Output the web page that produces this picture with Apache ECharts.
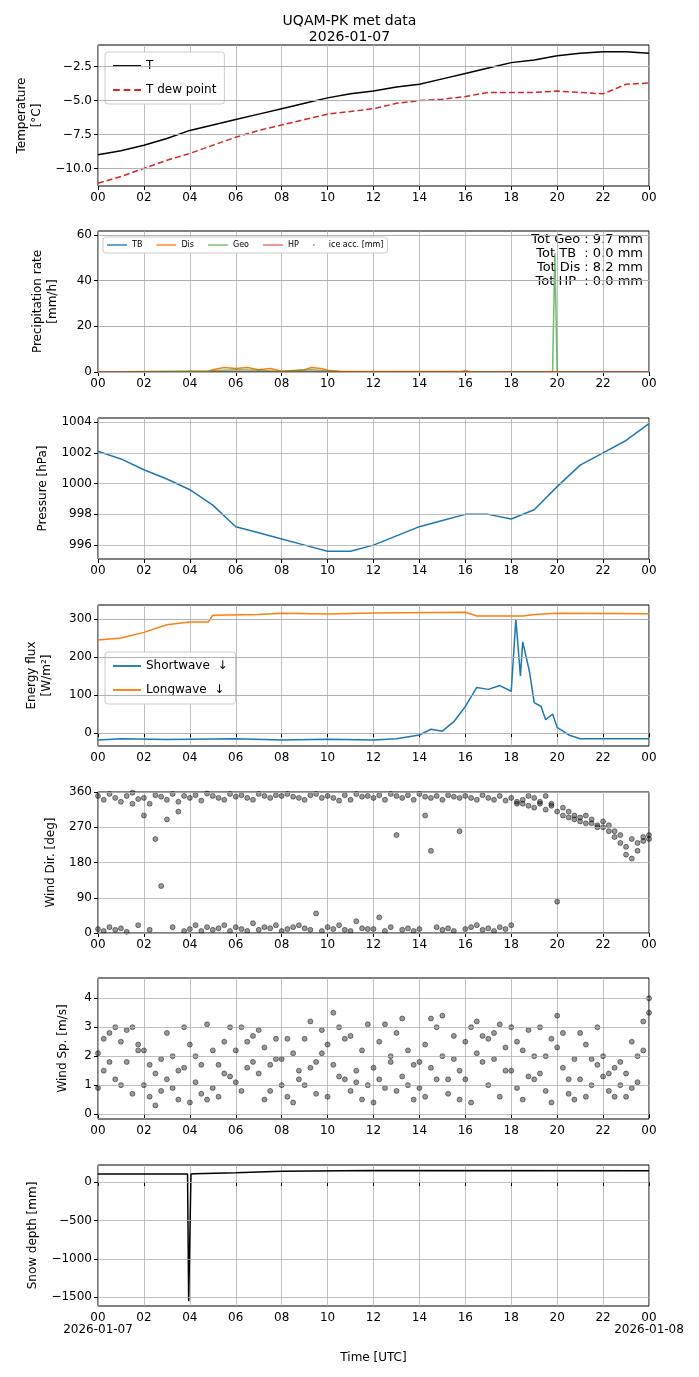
<!DOCTYPE html>
<html>
<head>
<meta charset="utf-8">
<title>UQAM-PK met data</title>
<script src="https://cdn.jsdelivr.net/npm/echarts@6/dist/echarts.min.js"></script>
<style>body{margin:0;background:#fff}#chart{width:699px;height:1377px}</style>
</head>
<body>
<div id="chart"></div>
<script>
// ---- data (hours UTC from 2026-01-07 00:00) ----
var hours = [0,1,2,3,4,5,6,7,8,9,10,11,12,13,14,15,16,17,18,19,20,21,22,23,24];
var tempT   = [-9.0,-8.7,-8.3,-7.8,-7.2,-6.8,-6.4,-6.0,-5.6,-5.2,-4.8,-4.5,-4.3,-4.0,-3.8,-3.4,-3.0,-2.6,-2.2,-2.0,-1.7,-1.5,-1.4,-1.4,-1.5];
var tempDew = [-11.1,-10.6,-10.0,-9.4,-8.9,-8.3,-7.7,-7.2,-6.8,-6.4,-6.0,-5.8,-5.6,-5.2,-5.0,-4.9,-4.7,-4.4,-4.4,-4.4,-4.3,-4.4,-4.5,-3.8,-3.7];
var pressure = [1002.1,1001.6,1000.9,1000.3,999.6,998.6,997.2,996.8,996.4,996.0,995.6,995.6,996.0,996.6,997.2,997.6,998.0,998.0,997.7,998.3,999.8,1001.2,1002.0,1002.8,1003.9];
var precipDis = [[0,0],[4.8,0.2],[5,1],[5.5,2],[6,1.5],[6.5,2],[7,1],[7.5,1.5],[8,0.3],[9,1],[9.3,2],[9.7,1.5],[10,0.8],[10.5,0.3],[11,0.2],[15.8,0.2],[16,0.6],[16.2,0.2],[24,0]];
var precipGeo = [[0,0],[5,0.5],[6,1],[7,0.8],[8,0.2],[9.3,1],[10,0.4],[11,0],[19.8,0],[19.9,52],[20.0,0],[24,0]];
var precipTB = [[0,0],[24,0]];
var precipHP = [[0,0],[24,0]];
var totals = ['Tot Geo : 9.7 mm','Tot TB  : 0.0 mm','Tot Dis : 8.2 mm','Tot HP  : 0.0 mm'];
var longwave = [[0,245],[1,250],[2,265],[3,285],[4,292],[4.8,292],[5,310],[7,312],[8,315],[10,313],[12,316],[16,318],[16.5,308],[18.5,308],[19,312],[20,315],[24,314]];
var shortwave = [[0,-18],[1,-15],[3,-17],[6,-15],[8,-18],[10,-16],[12,-18],[13,-15],[14,-5],[14.5,10],[15,5],[15.5,30],[16,70],[16.5,120],[17,115],[17.5,125],[18,110],[18.2,300],[18.4,150],[18.5,240],[18.8,160],[19,80],[19.3,70],[19.5,35],[19.8,50],[20,15],[20.5,-5],[21,-15],[24,-15]];
var windDirA = [350,340,355,345,335,350,358,342,345,330,352,348,340,355,335,350,345,352,338,356,350,345,340,355,348,352,345,340,355,350,345,352,350,355,348,345,340,352,355,345,350,345,338,352,340,355,348,350,345,352,340,355,350,345,352,340,355,348,345,350,340,352,348,345,350,345,340,352,345,340,350,338,345,335,330,325,320,330,315,325,310,300,295,290,285,280,290,275,270,260,245,230,220,240,210,235,250];
var windDirB = [10,5,15,8,12,3,330,20,300,8,240,120,290,15,310,5,10,20,5,15,8,12,20,5,15,10,5,25,8,15,12,20,5,10,15,20,12,8,50,5,15,10,20,8,5,30,12,10,10,40,5,15,250,8,12,5,10,300,210,15,8,12,5,260,10,15,20,8,12,5,15,10,20,330,340,350,345,335,350,330,80,320,310,300,295,300,280,270,285,275,260,250,200,190,230,245,240];
var windSpA = [2.1,1.5,2.8,1.2,2.5,1.8,3.0,2.2,1.0,0.6,1.4,0.8,1.2,2.0,0.5,1.6,2.4,1.1,0.7,3.1,0.9,1.7,2.5,1.3,2.2,3.0,1.6,2.7,1.4,2.3,0.8,1.9,1.0,0.6,2.1,1.5,2.6,3.2,1.8,2.9,2.4,1.7,3.0,1.2,0.8,1.5,2.2,1.0,1.6,2.5,0.9,2.0,2.8,1.3,2.2,1.7,0.9,2.4,1.6,3.0,2.0,1.2,2.7,1.5,2.5,3.0,2.1,1.8,2.6,1.9,3.1,2.3,1.5,0.9,2.2,1.3,2.0,1.4,0.8,2.6,2.3,1.6,0.7,1.9,1.2,2.4,1.0,1.7,1.3,0.8,1.6,1.0,1.4,0.9,2.0,3.2,3.5];
var windSpB = [0.9,2.6,1.8,3.0,1.0,2.9,0.7,2.4,2.2,1.7,0.3,1.9,2.8,0.9,1.5,3.0,0.4,2.0,1.7,0.5,2.2,0.6,1.4,3.0,1.1,0.8,2.5,1.8,2.9,0.5,1.7,2.6,1.9,2.6,0.4,1.2,1.0,1.6,0.7,2.1,0.6,3.5,1.3,2.6,2.7,1.1,0.5,3.1,0.4,1.2,3.1,1.8,0.8,3.3,1.0,0.5,1.8,0.6,3.3,1.2,3.4,0.7,1.9,0.5,1.2,0.4,3.2,2.7,1.0,2.8,0.6,1.5,3.0,2.5,0.5,2.9,1.2,3.0,2.0,0.4,3.4,2.8,1.2,0.5,2.8,0.6,1.9,3.0,2.0,1.4,0.6,1.8,0.6,2.5,1.1,2.2,4.0];
var snowDepth = [[0,105],[3.9,105],[3.95,-1550],[4.05,105],[4.2,108],[6,120],[8,140],[12,150],[24,148]];
var tickTemp = [-10,-7.5,-5,-2.5];
var tickPrecip = [0,20,40,60];
var tickPres = [996,998,1000,1002,1004];
var tickEnergy = [0,100,200,300];
var tickDir = [0,90,180,270,360];
var tickSp = [0,1,2,3,4];
var tickSnow = [-1500,-1000,-500,0];

// ---- helpers ----
function pairs(xs, ys){ return xs.map(function(x,i){ return [x, ys[i]]; }); }
function quarter(ys){ return ys.map(function(y,i){ return [i*0.25, y]; }); }
function pad(h){ h = h % 24; return (h < 10 ? '0' : '') + h; }
function minus(v){ return String(v).replace('-','−'); }

var tops = [45,231,418,605,792,978,1165];
var H = 141;
var font = 'DejaVu Sans';
var grids = [], xAxes = [], yAxes = [];
var yCfg = [
  {name:'Temperature\n[°C]', min:-11.3, max:-0.9, ticks:tickTemp, gap:52, fmt:function(v){return minus(v.toFixed(1));}},
  {name:'Precipitation rate\n[mm/h]', min:0, max:61.7, ticks:tickPrecip, gap:38},
  {name:'Pressure [hPa]', min:995.1, max:1004.26, ticks:tickPres, gap:48},
  {name:'Energy flux\n[W/m²]', min:-34, max:337, ticks:tickEnergy, gap:44},
  {name:'Wind Dir. [deg]', min:0, max:360, ticks:tickDir, gap:38},
  {name:'Wind Sp. [m/s]', min:-0.17, max:4.7, ticks:tickSp, gap:28},
  {name:'Snow depth [mm]', min:-1613, max:222, ticks:tickSnow, gap:52}
];
tops.forEach(function(t, i){
  grids.push({left:98, right:50, top:t, height:H, show:true, borderColor:'#000', borderWidth:1, backgroundColor:'transparent'});
  var last = (i === tops.length - 1);
  xAxes.push({
    type:'value', gridIndex:i, min:0, max:24, interval:2,
    axisLine:{show:false}, axisTick:{show:true, length:4, lineStyle:{color:'#000'}},
    splitLine:{show:true, lineStyle:{color:'#b0b0b0', width:0.8}},
    axisLabel:{color:'#000', fontFamily:font, fontSize:12, margin:6, showMinLabel:true, showMaxLabel:true,
      formatter:function(v){ if(last && (v===0||v===24)) return pad(v)+'\n'+(v===0?'2026-01-07':'2026-01-08'); return pad(v); }},
    name: last ? 'Time [UTC]' : '', nameLocation:'middle', nameGap:46,
    nameTextStyle:{color:'#000', fontFamily:font, fontSize:12}
  });
  var c = yCfg[i];
  yAxes.push({type:'value', gridIndex:i, min:c.min, max:c.max,
    axisLine:{show:false}, axisTick:{show:true, length:4, lineStyle:{color:'#000'}, customValues:c.ticks},
    splitLine:{show:false},
    axisLabel:{color:'#000', fontFamily:font, fontSize:12, margin:6, customValues:c.ticks, formatter:c.fmt || minus},
    name:c.name, nameLocation:'middle', nameRotate:90, nameGap:c.gap,
    nameTextStyle:{color:'#000', fontFamily:font, fontSize:12, lineHeight:15}});
});

// horizontal grid lines at tick values (value split lines would follow min)
function line(name, g, data, color, extra){
  var s = {name:name, type:'line', xAxisIndex:g, yAxisIndex:g, data:data, symbol:'none',
    lineStyle:{color:color, width:1.5}, itemStyle:{color:color}, animation:false,
    markLine:{silent:true, symbol:'none', label:{show:false}, lineStyle:{color:'#b0b0b0', width:0.8, type:'solid'},
      data: yCfg[g].ticks.map(function(v){ return {yAxis:v}; })}};
  for (var k in extra) s[k] = extra[k];
  return s;
}
function scatter(g, data){
  return {type:'scatter', xAxisIndex:g, yAxisIndex:g, data:data, symbolSize:5,
    itemStyle:{color:'rgba(0,0,0,0.5)', borderColor:'rgba(0,0,0,0.7)', borderWidth:0.8}, animation:false};
}

var series = [
  line('T', 0, pairs(hours, tempT), '#000'),
  line('T dew point', 0, pairs(hours, tempDew), '#d62728', {lineStyle:{color:'#d62728', width:1.5, type:'dashed'}}),
  line('TB', 1, precipTB, '#1f77b4'),
  line('Dis', 1, precipDis, '#ff7f0e'),
  line('Geo', 1, precipGeo, 'rgba(44,160,44,0.7)'),
  line('HP', 1, precipHP, 'rgba(214,39,40,0.7)'),
  {name:'ice acc. [mm]', type:'scatter', xAxisIndex:1, yAxisIndex:1, data:[], itemStyle:{color:'#9467bd'}},
  line('P', 2, pairs(hours, pressure), '#1f77b4'),
  line('Shortwave  ↓', 3, shortwave, '#1f77b4'),
  line('Longwave  ↓', 3, longwave, '#ff7f0e'),
  line('dirgrid', 4, [], '#000'),
  scatter(4, quarter(windDirA)), scatter(4, quarter(windDirB)),
  line('spgrid', 5, [], '#000'),
  scatter(5, quarter(windSpA)), scatter(5, quarter(windSpB)),
  line('Snow', 6, snowDepth, '#000')
];

var solid = 'path://M0,0H30V2H0Z';
var dashed = 'path://M0,0H7V2H0Z M11,0H18V2H11Z M22,0H29V2H22Z';
var legBox = {backgroundColor:'#fff', borderColor:'#ccc', borderWidth:1, borderRadius:3, orient:'vertical',
  itemWidth:28, itemHeight:2, itemGap:12, padding:[8,8],
  textStyle:{color:'#000', fontFamily:font, fontSize:12}};
function leg(o){ var r = {}; for (var k in legBox) r[k]=legBox[k]; for (var k2 in o) r[k2]=o[k2]; return r; }

var chart = echarts.init(document.getElementById('chart'));
chart.setOption({
  backgroundColor:'#fff',
  animation:false,
  title:{text:'UQAM-PK met data\n2026-01-07', left:'center', top:8,
    textStyle:{color:'#000', fontFamily:font, fontSize:14, fontWeight:'normal', lineHeight:16}},
  grid:grids, xAxis:xAxes, yAxis:yAxes,
  legend:[
    leg({data:[{name:'T', icon:solid},{name:'T dew point', icon:dashed}], left:105, top:52}),
    leg({data:[{name:'TB', icon:solid},{name:'Dis', icon:solid},{name:'Geo', icon:solid},{name:'HP', icon:solid},{name:'ice acc. [mm]', icon:'path://M0,0A3,3 0 1,0 0.01,0Z'}],
      orient:'horizontal', left:103, top:237, itemWidth:20, itemHeight:2, itemGap:14, padding:[4,4], textStyle:{color:'#000', fontFamily:font, fontSize:8}}),
    leg({data:[{name:'Shortwave  ↓', icon:solid},{name:'Longwave  ↓', icon:solid}], left:105, top:652})
  ],
  graphic:[{type:'text', right:56, top:233, style:{text:totals.join('\n'), fill:'#000', font:'13px DejaVu Sans', textAlign:'right', lineHeight:14}}],
  series:series
});
</script>
</body>
</html>
